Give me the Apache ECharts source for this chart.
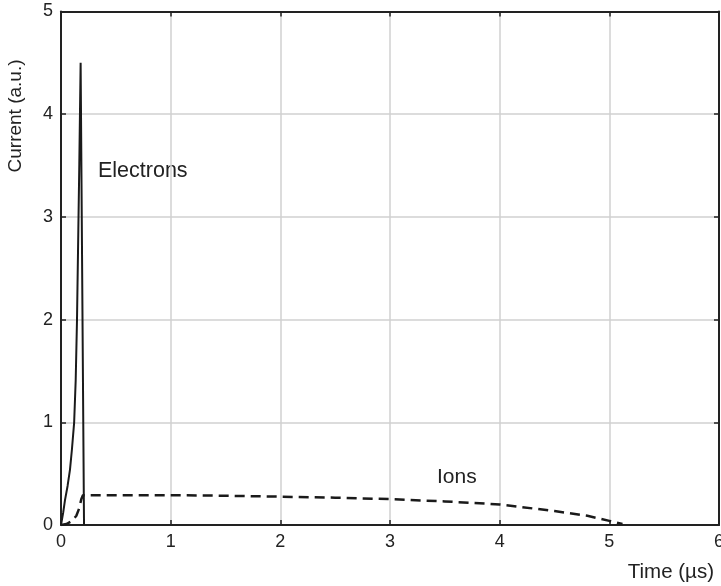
<!DOCTYPE html>
<html>
<head>
<meta charset="utf-8">
<script src="https://cdn.jsdelivr.net/npm/echarts@6/dist/echarts.min.js"></script>
<style>
  html, body { margin: 0; padding: 0; background: #fff; }
  #chart { width: 721px; height: 586px; }
</style>
</head>
<body>
<div id="chart"></div>
<script>
// Electron current pulse: fast rise, sharp cut-off when electrons reach the anode
var electronTime    = [0, 0.02, 0.036, 0.06, 0.082, 0.1, 0.12, 0.134, 0.146, 0.158, 0.167, 0.179, 0.21];
var electronCurrent = [0, 0.12, 0.24, 0.38, 0.54, 0.74, 1.0, 1.41, 2.0, 2.87, 3.52, 4.5, 0];

// Ion current: small, long-lasting drift contribution
var ionTime    = [0, 0.05, 0.1, 0.14, 0.165, 0.185, 0.2, 0.5, 1, 1.5, 2, 2.5, 3, 3.5, 4, 4.5, 4.8, 5, 5.12];
var ionCurrent = [0, 0.01, 0.04, 0.09, 0.16, 0.25, 0.29, 0.29, 0.29, 0.285, 0.276, 0.266, 0.252, 0.23, 0.2, 0.136, 0.09, 0.04, 0.01];

var xTicks = [0, 1, 2, 3, 4, 5, 6];
var yTicks = [0, 1, 2, 3, 4, 5];

function pairs(xs, ys) {
  return xs.map(function (x, i) { return [x, ys[i]]; });
}

var FONT = 'Liberation Sans, Arial, Helvetica, sans-serif';
var FRAME = '#222';

var baseX = {
  type: 'value', min: xTicks[0], max: xTicks[xTicks.length - 1], interval: 1,
  axisLine: { show: true, onZero: false, lineStyle: { color: FRAME, width: 2 } },
  axisTick: { show: true, inside: true, length: 5, lineStyle: { color: FRAME, width: 1.5 } }
};
var baseY = {
  type: 'value', min: yTicks[0], max: yTicks[yTicks.length - 1], interval: 1,
  axisLine: { show: true, onZero: false, lineStyle: { color: FRAME, width: 2 } },
  axisTick: { show: true, inside: true, length: 5, lineStyle: { color: FRAME, width: 1.5 } }
};

var chart = echarts.init(document.getElementById('chart'), null, { renderer: 'canvas' });
chart.setOption({
  animation: false,
  backgroundColor: '#fff',
  grid: { left: 61, right: 2, top: 11.5, bottom: 61, containLabel: false, outerBoundsMode: 'none' },
  xAxis: [
    Object.assign({}, baseX, {
      position: 'bottom',
      axisLabel: { show: true, color: '#222', fontSize: 18, fontFamily: FONT, margin: 8 },
      splitLine: { show: true, lineStyle: { color: '#d0d0d0', width: 1.5 } }
    }),
    Object.assign({}, baseX, {
      position: 'top',
      axisLabel: { show: false },
      splitLine: { show: false }
    })
  ],
  yAxis: [
    Object.assign({}, baseY, {
      position: 'left',
      axisLabel: { show: true, color: '#222', fontSize: 18, fontFamily: FONT, margin: 8 },
      splitLine: { show: true, lineStyle: { color: '#d0d0d0', width: 1.5 } }
    }),
    Object.assign({}, baseY, {
      position: 'right',
      axisLabel: { show: false },
      splitLine: { show: false }
    })
  ],
  series: [
    {
      name: 'Electrons', type: 'line', xAxisIndex: 0, yAxisIndex: 0,
      data: pairs(electronTime, electronCurrent),
      showSymbol: false, smooth: false,
      lineStyle: { color: '#1a1a1a', width: 2 }
    },
    {
      name: 'Ions', type: 'line', xAxisIndex: 0, yAxisIndex: 0,
      data: pairs(ionTime, ionCurrent),
      showSymbol: false, smooth: false,
      lineStyle: { color: '#1a1a1a', width: 2.5, type: [10, 6] }
    }
  ],
  graphic: [
    { type: 'text', x: 98, y: 171,
      style: { text: 'Electrons', fontSize: 21.5, fontFamily: FONT, fill: '#222', align: 'left', verticalAlign: 'middle' } },
    { type: 'text', x: 437, y: 477,
      style: { text: 'Ions', fontSize: 21, fontFamily: FONT, fill: '#222', align: 'left', verticalAlign: 'middle' } },
    { type: 'text', x: 714, y: 572,
      style: { text: 'Time (\u00b5s)', fontSize: 20.5, fontFamily: FONT, fill: '#222', align: 'right', verticalAlign: 'middle' } },
    { type: 'text', x: 16, y: 116, rotation: Math.PI / 2,
      style: { text: 'Current (a.u.)', fontSize: 19, fontFamily: FONT, fill: '#222', align: 'center', verticalAlign: 'middle' } }
  ]
});
</script>
</body>
</html>
